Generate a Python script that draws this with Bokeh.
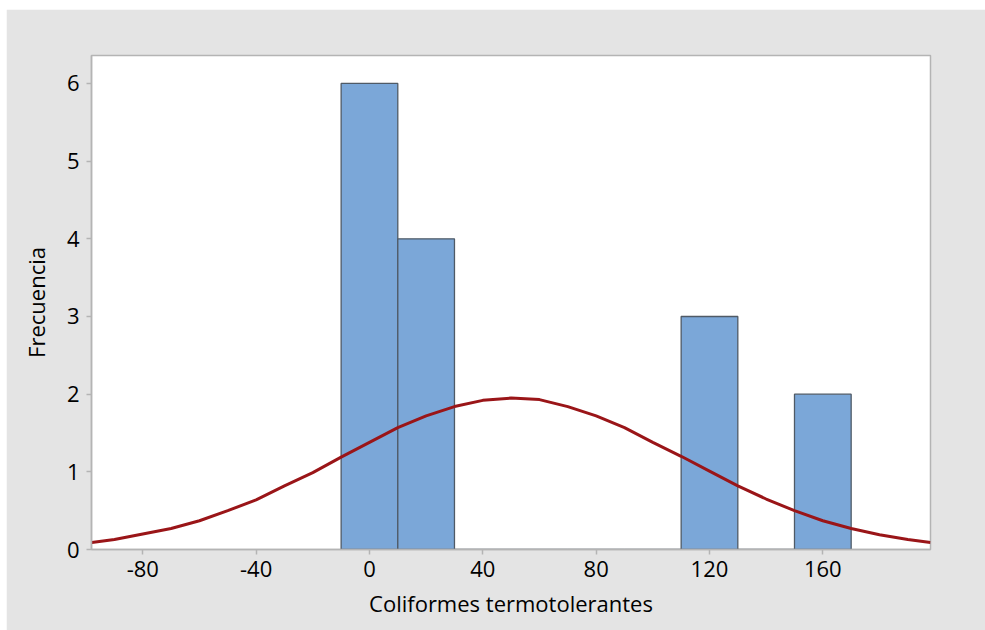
from bokeh.plotting import figure
from bokeh.models import FixedTicker, Spacer, Range1d
from bokeh.layouts import column, row
from bokeh.embed import file_html
from bokeh.resources import INLINE

# Histogram bins (bin centres, width 20) and counts
bin_centers = [0, 20, 40, 60, 80, 100, 120, 140, 160]
counts = [6, 4, 0, 0, 0, 0, 3, 0, 2]
bin_width = 20

# Fitted normal curve
curve_x = [-98, -90, -80, -70, -60, -50, -40, -30, -20, -10, 0, 10, 20, 30, 40,
           50, 60, 70, 80, 90, 100, 110, 120, 130, 140, 150, 160, 170, 180, 190, 198]
curve_y = [0.09, 0.13, 0.20, 0.27, 0.37, 0.50, 0.64, 0.82, 0.99, 1.19, 1.38, 1.57,
           1.72, 1.84, 1.92, 1.95, 1.93, 1.84, 1.72, 1.57, 1.38, 1.20, 1.01, 0.82,
           0.65, 0.50, 0.37, 0.27, 0.19, 0.13, 0.09]

x_ticks = [-80, -40, 0, 40, 80, 120, 160]
y_ticks = [0, 1, 2, 3, 4, 5, 6]

x_label = "Coliformes termotolerantes"
y_label = "Frecuencia"

FONT = "Open Sans"
GRAY_BG = "#e4e4e4"

p = figure(width=979, height=621, output_backend="svg", toolbar_location=None,
           x_range=Range1d(-98.1, 198.0), y_range=Range1d(0, 6.36),
           min_border_left=85, min_border_right=55, min_border_top=46, min_border_bottom=81)
p.border_fill_color = GRAY_BG
p.background_fill_color = "white"
p.outline_line_color = "#b4b4b4"
p.outline_line_width = 1.5
p.grid.visible = False

lefts = [c - bin_width / 2 for c in bin_centers]
rights = [c + bin_width / 2 for c in bin_centers]
p.quad(left=lefts, right=rights, bottom=[0] * len(counts), top=counts,
       fill_color="#7ba7d8", line_color="#4f5a66", line_width=1.3)

p.line(curve_x, curve_y, line_color="#9a1518", line_width=3)

for ax in (p.xaxis[0], p.yaxis[0]):
    ax.axis_line_color = "#b4b4b4"
    ax.axis_line_width = 1.5
    ax.major_tick_line_color = "#b4b4b4"
    ax.major_tick_line_width = 1.5
    ax.major_tick_out = 5
    ax.major_tick_in = 0
    ax.minor_tick_line_color = None
    ax.major_label_text_font = FONT
    ax.major_label_text_font_size = "22px"
    ax.major_label_text_font_style = "normal"
    ax.major_label_text_color = "#000000"
    ax.axis_label_text_font = FONT
    ax.axis_label_text_font_size = "22px"
    ax.axis_label_text_font_style = "normal"
    ax.axis_label_text_color = "#000000"

p.xaxis[0].ticker = FixedTicker(ticks=x_ticks)
p.yaxis[0].ticker = FixedTicker(ticks=y_ticks)
p.xaxis[0].major_label_overrides = {t: str(t) for t in x_ticks}
p.xaxis[0].axis_label = x_label
p.yaxis[0].axis_label = y_label
p.xaxis[0].major_label_standoff = 6
p.xaxis[0].axis_label_standoff = 8
p.yaxis[0].major_label_standoff = 7
p.yaxis[0].axis_label_standoff = 13

layout = column(Spacer(height=9, width=985),
                row(Spacer(width=6, height=621), p))

open("out.html", "w").write(file_html(layout, INLINE))
